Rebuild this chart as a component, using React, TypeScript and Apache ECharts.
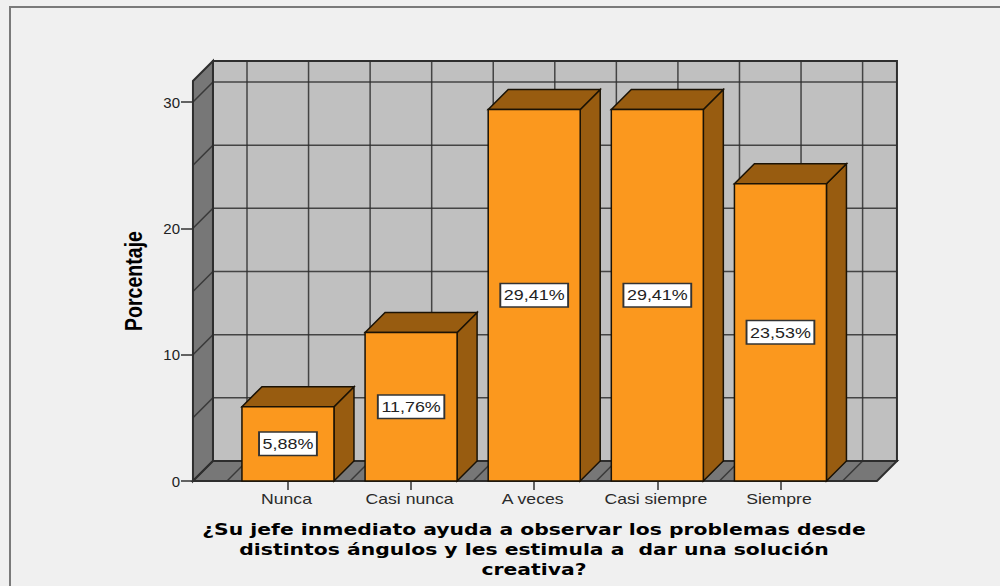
import React, { useEffect, useRef } from "react";
import * as echarts from "echarts";

const categories = ["Nunca", "Casi nunca", "A veces", "Casi siempre", "Siempre"];
const percentages = [5.88, 11.76, 29.41, 29.41, 23.53];
const percentLabels = ["5,88%", "11,76%", "29,41%", "29,41%", "23,53%"];
const yTicks = [0, 10, 20, 30];
const wallLevels = [0, 5, 10, 15, 20, 25, 30];
const yName = "Porcentaje";
const xName =
  "¿Su jefe inmediato ayuda a observar los problemas desde\ndistintos ángulos y les estimula a  dar una solución\ncreativa?";

const DEPTH = 20;
const WALL_TOP = 31.66;
const BAR_RATIO = 92 / 123.1;
const LINE = "#2e2e2e";
const WALL_FILL = "#777777";
const BACK_FILL = "#c0c0c0";
const BAR_FRONT = "#fb981e";
const BAR_SHADE = "#985c10";
const EDGE = "#1a1205";
const SANS = "Liberation Sans";

function renderWalls(_: any, api: any) {
  const step = api.size([1, 0])[0];
  const c0 = api.coord([0, 0]);
  const left = c0[0] - 95;
  const right = left + 684;
  const y0 = c0[1];
  const yTop = api.coord([0, WALL_TOP])[1];
  const children: any[] = [];
  const poly = (points: number[][], fill: string) => ({
    type: "polygon",
    shape: { points },
    style: { fill, stroke: LINE, lineWidth: 2 },
  });
  const line = (x1: number, y1: number, x2: number, y2: number, w = 1.5) => ({
    type: "line",
    shape: { x1, y1, x2, y2 },
    style: { stroke: LINE, lineWidth: w, opacity: 0.85 },
  });
  children.push(
    poly(
      [
        [left + DEPTH, y0 - DEPTH],
        [right + DEPTH, y0 - DEPTH],
        [right + DEPTH, yTop - DEPTH],
        [left + DEPTH, yTop - DEPTH],
      ],
      BACK_FILL
    )
  );
  children.push(
    poly(
      [
        [left, y0],
        [left + DEPTH, y0 - DEPTH],
        [left + DEPTH, yTop - DEPTH],
        [left, yTop],
      ],
      WALL_FILL
    )
  );
  children.push(
    poly(
      [
        [left, y0],
        [right, y0],
        [right + DEPTH, y0 - DEPTH],
        [left + DEPTH, y0 - DEPTH],
      ],
      WALL_FILL
    )
  );
  wallLevels.forEach((v) => {
    const y = api.coord([0, v])[1];
    children.push(line(left + DEPTH, y - DEPTH, right + DEPTH, y - DEPTH));
    children.push(line(left, y, left + DEPTH, y - DEPTH));
  });
  for (let k = -1; k <= 9; k++) {
    const x = c0[0] + DEPTH + 0.6 + (k * step) / 2;
    children.push(line(x, yTop - DEPTH, x, y0 - DEPTH));
    children.push(line(x - DEPTH, y0, x, y0 - DEPTH));
  }
  return { type: "group", children };
}

function renderBar(params: any, api: any) {
  const i = api.value(0);
  const v = api.value(1);
  const top = api.coord([i, v]);
  const base = api.coord([i, 0]);
  const half = (api.size([1, 0])[0] * BAR_RATIO) / 2;
  const x0 = top[0] - half;
  const x1 = top[0] + half;
  const style = (fill: string) => ({ fill, stroke: EDGE, lineWidth: 1.5 });
  return {
    type: "group",
    children: [
      {
        type: "polygon",
        shape: {
          points: [
            [x1, base[1]],
            [x1 + DEPTH, base[1] - DEPTH],
            [x1 + DEPTH, top[1] - DEPTH],
            [x1, top[1]],
          ],
        },
        style: style(BAR_SHADE),
      },
      {
        type: "polygon",
        shape: {
          points: [
            [x0, top[1]],
            [x1, top[1]],
            [x1 + DEPTH, top[1] - DEPTH],
            [x0 + DEPTH, top[1] - DEPTH],
          ],
        },
        style: style(BAR_SHADE),
      },
      {
        type: "rect",
        shape: { x: x0, y: top[1], width: x1 - x0, height: base[1] - top[1] },
        style: style(BAR_FRONT),
      },
      {
        type: "text",
        x: top[0],
        y: (top[1] + base[1]) / 2,
        scaleX: 1.28,
        style: {
          text: percentLabels[params.dataIndex],
          fontFamily: SANS,
          fontSize: 14,
          fill: "#222222",
          align: "center",
          verticalAlign: "middle",
          backgroundColor: "#ffffff",
          borderColor: "#333333",
          borderWidth: 1.5,
          padding: [4, 2, 4, 2],
        },
      },
      {
        type: "text",
        x: top[0] - 1.5,
        y: base[1] + 18,
        scaleX: 1.26,
        style: {
          text: categories[params.dataIndex],
          fontFamily: SANS,
          fontSize: 14,
          fill: "#2a2a2a",
          align: "center",
          verticalAlign: "middle",
        },
      },
    ],
  };
}

export default function App() {
  const ref = useRef<HTMLDivElement>(null);
  useEffect(() => {
    const chart = echarts.init(ref.current!, null, { renderer: "svg" });
    chart.setOption({
      animation: false,
      backgroundColor: "#f0f0f0",
      graphic: [
        {
          type: "rect",
          z: -1,
          shape: { x: 10, y: 7, width: 1010, height: 600 },
          style: { fill: "none", stroke: "#7a7a7a", lineWidth: 2 },
        },
        {
          type: "text",
          x: 134,
          y: 281,
          rotation: Math.PI / 2,
          scaleX: 0.85,
          style: {
            text: yName,
            fontFamily: SANS,
            fontWeight: "bold",
            fontSize: 23,
            fill: "#000000",
            align: "center",
            verticalAlign: "middle",
          },
        },
        {
          type: "text",
          x: 534,
          y: 549.5,
          scaleX: 1.233,
          style: {
            text: xName,
            fontFamily: "DejaVu Sans",
            fontWeight: "bold",
            fontSize: 16.5,
            lineHeight: 20,
            fill: "#000000",
            align: "center",
            verticalAlign: "middle",
          },
        },
      ],
      grid: {
        left: 226.4,
        top: 102,
        width: 615.6,
        height: 379,
        outerBoundsMode: "none",
      },
      xAxis: {
        type: "category",
        data: categories,
        axisLine: { show: false },
        axisTick: {
          show: true,
          alignWithLabel: true,
          length: 9,
          lineStyle: { color: "#333333", width: 1.5 },
        },
        axisLabel: { show: false },
        splitLine: { show: false },
      },
      yAxis: {
        type: "value",
        min: 0,
        max: 30,
        interval: 10,
        offset: 33.4,
        axisLine: { show: false },
        axisTick: {
          show: true,
          length: 12,
          lineStyle: { color: "#333333", width: 1.5 },
        },
        axisLabel: {
          margin: 13,
          fontFamily: SANS,
          fontSize: 15,
          color: "#222222",
          formatter: (v: number) => (yTicks.includes(v) ? String(v) : ""),
        },
        splitLine: { show: false },
      },
      series: [
        {
          type: "custom",
          coordinateSystem: "cartesian2d",
          clip: false,
          silent: true,
          z: 1,
          data: [[0, 0]],
          encode: { x: 0, y: 1 },
          renderItem: renderWalls,
        },
        {
          type: "custom",
          coordinateSystem: "cartesian2d",
          clip: false,
          silent: true,
          z: 2,
          data: percentages.map((v, i) => [i, v]),
          encode: { x: 0, y: 1 },
          renderItem: renderBar,
        },
      ],
    });
    return () => chart.dispose();
  }, []);
  return (
    <div
      ref={ref}
      style={{ position: "fixed", left: 0, top: 0, width: 1000, height: 586 }}
    />
  );
}
